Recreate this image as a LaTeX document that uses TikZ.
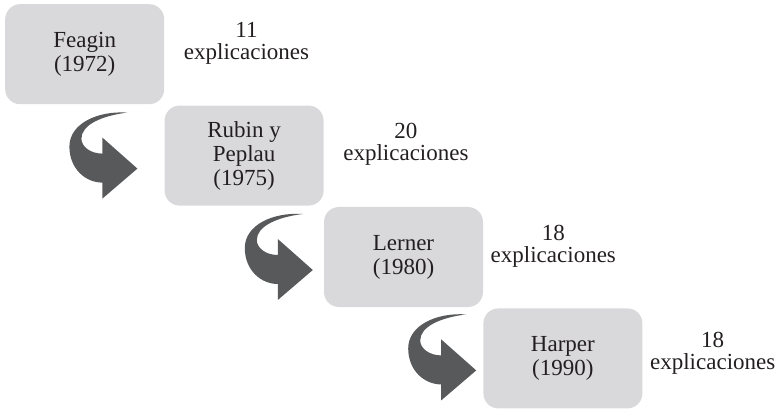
\documentclass[tikz,border=0pt]{standalone}
\usepackage{fontspec}
\setmainfont{Liberation Serif}
\usepackage{tikz}
\usetikzlibrary{positioning}
\definecolor{boxgray}{HTML}{D9D9DB}
\definecolor{arrowgray}{HTML}{58595B}
\definecolor{ink}{HTML}{231F20}
\tikzset{curvearrow/.pic={
  \fill[arrowgray] (0,0) -- (-35,31) -- (-35,15)
    .. controls (-47,15) and (-56,22) .. (-56,30)
    .. controls (-56,44) and (-35,53) .. (-10,56)
    .. controls (-40,58) and (-68,45) .. (-68,22)
    .. controls (-68,0) and (-52,-14) .. (-35,-14)
    -- (-35,-30) -- cycle;
}}

\begin{document}
\begin{tikzpicture}[x=1pt,y=1pt, every node/.style={text=ink,align=center,font=\fontsize{23}{24}\selectfont}, box/.style={fill=boxgray,rounded corners=15pt,minimum width=159pt,minimum height=100pt,inner sep=0pt}, lbl/.style={font=\fontsize{23}{22}\selectfont}]
\useasboundingbox (0,0) rectangle (777,-409);
\node[box,anchor=north west] (feagin) at (5,-4) {Feagin\\(1972)};
\node[box,below right=1pt and 0pt of feagin] (rubin) {Rubin y\\Peplau\\(1975)};
\node[box,below right=1pt and 0pt of rubin] (lerner) {Lerner\\(1980)};
\node[box,below right=1pt and 0pt of lerner] (harper) {Harper\\(1990)};
% counts
\node[lbl,right=16pt of feagin,yshift=11pt] (n1) {11\\explicaciones};
\node[lbl,right=16pt of rubin,yshift=11pt] (n2) {20\\explicaciones};
\node[lbl,right=4pt of lerner,yshift=11pt] (n3) {18\\explicaciones};
\node[lbl,right=4pt of harper,yshift=5pt] (n4) {18\\explicaciones};
% curved arrows
\pic at ([shift={(-27,-13)}]rubin.west) {curvearrow};
\pic at ([shift={(-11,-13)}]lerner.west) {curvearrow};
\pic at ([shift={(-7,-12)}]harper.west) {curvearrow};
\end{tikzpicture}
\end{document}
